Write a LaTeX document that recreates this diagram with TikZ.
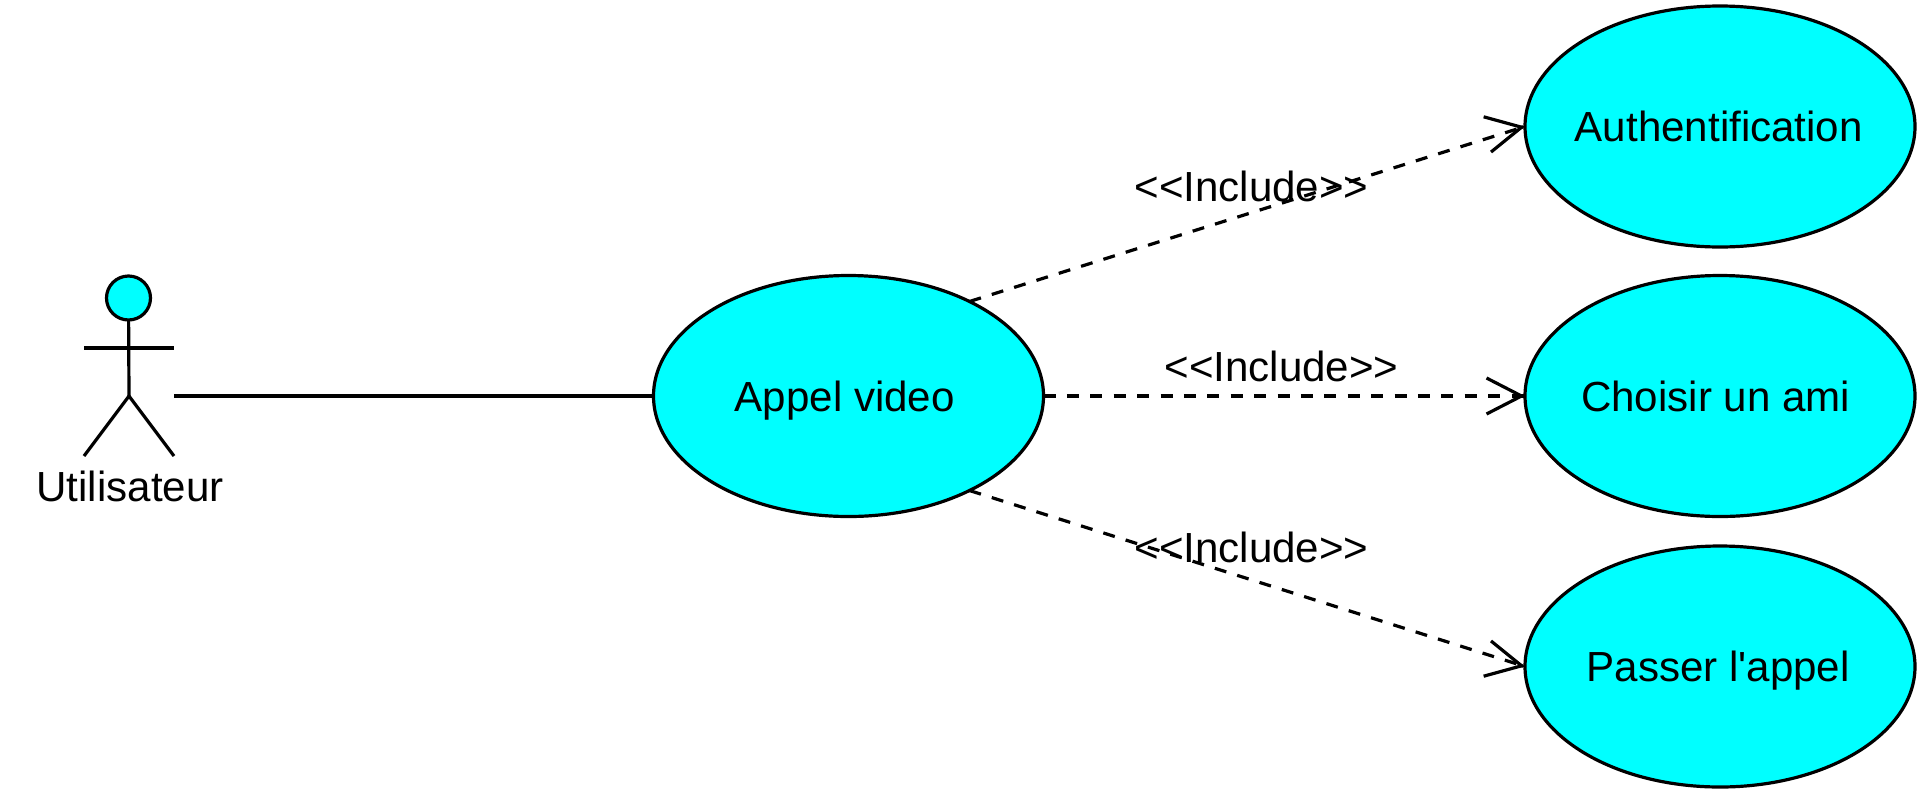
\documentclass[tikz,border=0pt]{standalone}
\usepackage{fontspec}
\usetikzlibrary{arrows.meta,shapes.geometric}
\newfontfamily\umlfont{Liberation Sans}
\definecolor{casecyan}{HTML}{00FFFF}
\tikzset{
	umltext/.style={inner sep=0pt,font=\umlfont\fontsize{21.05pt}{25pt}\selectfont},
	usecase/.style={ellipse,draw=black,fill=casecyan,line width=1.6pt,minimum width=195pt,minimum height=120.5pt,inner sep=-20pt,outer sep=0pt,font=\umlfont\fontsize{21.05pt}{25pt}\selectfont,text height=15pt,text depth=0pt},
	umlline/.style={black,line width=1.6pt},
	includeline/.style={umlline,dash pattern=on 6pt off 5.7pt},
	includetip/.style={umlline,-{Straight Barb[length=17.5pt,width=18pt]}}
}
\begin{document}
\begin{tikzpicture}[x=0.5pt,y=-0.5pt]
	\useasboundingbox (0,0) rectangle (1926,798);

	% actor
	\node[circle,draw=black,fill=casecyan,line width=1.6pt,minimum size=22pt,inner sep=0pt,outer sep=0pt] (head) at (128.5,298) {};
	\coordinate (neck) at (129,396);
	\coordinate (handl) at (84,348);
	\coordinate (handr) at (174,348);
	\coordinate (footl) at (84,456);
	\coordinate (footr) at (174,456);
	\coordinate (assoc) at (174,396);
	\draw[umlline] (head) -- (neck);
	\draw[umlline] (handl) -- (handr);
	\draw[umlline] (footl) -- (neck) -- (footr);
	\node[umltext] (user) at (130,486) {Utilisateur};

	% use cases
	\node[usecase] (appel) at (848.5,396) {Appel video\kern3.7pt\mbox{}};
	\node[usecase] (auth) at (1720,126.5) {Authentification\kern1.2pt\mbox{}};
	\node[usecase] (ami) at (1720,396) {Choisir un ami\kern4.3pt\mbox{}};
	\node[usecase] (passer) at (1720,666.5) {Passer l'appel\kern1.8pt\mbox{}};

	% links
	\draw[umlline] (assoc) -- (appel.west);

	\draw[includeline] (appel.38.5) -- (auth.west);
	\draw[includetip] ([shift={(-2,0.42)}]auth.west) -- (auth.west);
	\draw[includeline] (appel.east) -- (ami.west);
	\draw[includetip] ([shift={(-2,0)}]ami.west) -- (ami.west);
	\draw[includeline] (appel.-38.5) -- (passer.west);
	\draw[includetip] ([shift={(-2,-0.42)}]passer.west) -- (passer.west);

	% labels
	\node[umltext] (incauth) at (1251.5,186) {<<Include>>};
	\node[umltext] (incami) at (1281.5,366) {<<Include>>};
	\node[umltext] (incpasser) at (1251.5,547) {<<Include>>};
\end{tikzpicture}
\end{document}
